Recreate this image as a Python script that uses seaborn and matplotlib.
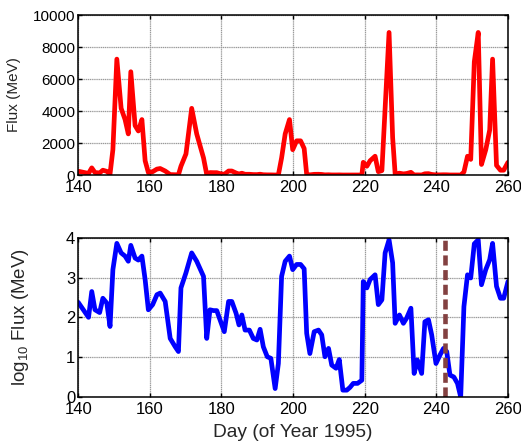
import numpy as np
import pandas as pd
import seaborn as sns
import matplotlib
matplotlib.use("Agg")
import matplotlib.pyplot as plt

# Day of year 1995 and log10 of the flux
days = [140, 142.9, 143.8, 144.7, 146, 146.9, 148, 148.9, 149.7, 150.8,
        152, 153.1, 154, 154.7, 155.9, 156.8, 157.8, 158.7, 159.6, 160.8,
        162, 162.9, 164.3, 165.7, 167.1, 168, 168.7, 170.1, 171.7, 173.1,
        175, 175.9, 176.8, 177.8, 178.7, 179.6, 180.8, 182, 182.9, 184.1,
        184.9, 185.7, 186.6, 187.8, 188.9, 189.9, 190.8, 191.7, 192.8, 193.8,
        195, 195.9, 196.8, 197.8, 199, 199.9, 201, 202.1, 203.1, 203.8,
        204.7, 205.9, 207.1, 208, 208.9, 209.9, 210.8, 212, 212.9, 213.9,
        215, 215.9, 216.8, 218, 219.2, 219.6, 220.6, 221.5, 222.9, 223.8,
        224.8, 225.7, 226.8, 227.8, 228.5, 229.7, 230.8, 231.7, 232.9, 233.8,
        234.7, 235.9, 236.8, 237.8, 238.7, 239.9, 241, 242, 242.9, 243.8,
        244.9, 245.9, 246.8, 247.7, 248.7, 249.6, 250.6, 251.7, 252.6, 253.8,
        254.9, 255.7, 256.8, 257.9, 258.8, 260]
log_flux = [2.38, 2.0, 2.65, 2.19, 2.12, 2.48, 2.36, 1.77, 3.2, 3.86,
            3.62, 3.54, 3.41, 3.81, 3.49, 3.44, 3.54, 2.95, 2.19, 2.32,
            2.57, 2.61, 2.4, 1.47, 1.26, 1.14, 2.74, 3.12, 3.62, 3.41,
            3.03, 1.47, 2.19, 2.17, 2.17, 1.94, 1.64, 2.4, 2.4, 2.1,
            1.81, 2.06, 1.68, 1.68, 1.47, 1.43, 1.7, 1.26, 1.01, 0.97,
            0.21, 0.84, 3.03, 3.41, 3.54, 3.2, 3.33, 3.33, 3.22, 1.6,
            1.09, 1.64, 1.68, 1.56, 1.01, 1.22, 0.8, 0.72, 0.94, 0.17,
            0.17, 0.24, 0.34, 0.34, 0.42, 2.9, 2.74, 2.95, 3.07, 2.32,
            2.44, 3.62, 3.95, 3.37, 1.85, 2.06, 1.85, 1.98, 2.23, 0.59,
            0.93, 0.59, 1.89, 1.94, 1.56, 0.84, 1.05, 1.22, 1.14, 0.55,
            0.5, 0.34, 0.0, 2.27, 3.07, 2.99, 3.85, 3.95, 2.82, 3.2,
            3.45, 3.86, 2.78, 2.48, 2.48, 2.9]

# marker day (dashed line in lower panel)
event_day = [242.5, 242.5]
event_y = [0, 4]

x_ticks = [140, 160, 180, 200, 220, 240, 260]
top_y_ticks = [0, 2000, 4000, 6000, 8000, 10000]
bot_y_ticks = [0, 1, 2, 3, 4]

df = pd.DataFrame({"day": days, "log_flux": log_flux})
df["flux"] = 10 ** df["log_flux"]

sns.set_theme(style="white")
plt.rcParams["font.family"] = ["Liberation Sans", "DejaVu Sans"]
plt.rcParams["mathtext.fontset"] = "custom"
plt.rcParams["mathtext.rm"] = "Liberation Sans"
plt.rcParams["mathtext.it"] = "Liberation Sans"

fig = plt.figure(figsize=(5.21, 4.42), dpi=100)
ax1 = fig.add_axes([0.150, 0.604, 0.825, 0.362])
ax2 = fig.add_axes([0.150, 0.102, 0.825, 0.360])

sns.lineplot(data=df, x="day", y="flux", ax=ax1, color="#ff0000",
             linewidth=3.4, sort=False, estimator=None)
sns.lineplot(data=df, x="day", y="log_flux", ax=ax2, color="#0000ff",
             linewidth=3.4, sort=False, estimator=None)
ax2.plot(event_day, event_y, color="#834141", linewidth=3.3,
         dashes=(2.2, 1.0), solid_capstyle="butt")

for ax in (ax1, ax2):
    ax.set_xlim(140, 260)
    ax.set_xticks(x_ticks)
    ax.grid(True, color="#9a9a9a", linestyle=(0, (1, 0.5)), linewidth=0.9)
    ax.set_axisbelow(True)
    ax.tick_params(direction="in", length=3, width=1, top=True, right=True,
                   bottom=True, left=True, colors="black", labelsize=12, pad=2)
    ax.tick_params(axis="x", pad=3.5)
    for s in ax.spines.values():
        s.set_color("black")
        s.set_linewidth(1.1)
    ax.set_xlabel("")

ax1.set_ylim(0, 10000)
ax1.set_yticks(top_y_ticks)
ax1.tick_params(axis="y", labelsize=11)
ax1.set_ylabel("Flux (MeV)", fontsize=11)
ax1.yaxis.set_label_coords(-0.132, 0.5)

ax2.set_ylim(0, 4)
ax2.set_yticks(bot_y_ticks)
ax2.set_ylabel(r"log$_{10}$ Flux (MeV)", fontsize=13.5)
ax2.yaxis.set_label_coords(-0.11, 0.5)
ax2.set_xlabel("Day (of Year 1995)", fontsize=13.8, labelpad=5)

fig.savefig("out.png", dpi=100)
